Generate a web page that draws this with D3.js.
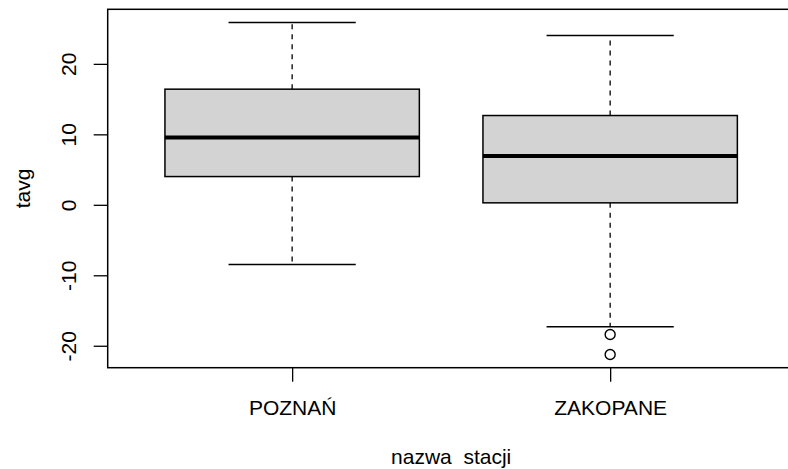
<!DOCTYPE html>
<html>
<head>
<meta charset="utf-8">
<script src="https://cdn.jsdelivr.net/npm/d3@7"></script>
<style>
  body { margin: 0; background: #fff; }
  svg { display: block; font-family: "Liberation Sans", Arial, sans-serif; }
</style>
</head>
<body>
<div id="chart"></div>
<script>
// Data
var stations = ["POZNAŃ", "ZAKOPANE"];
var whiskerLow = [-8.47, -17.3];
var q1 = [4.01, 0.28];
var median = [9.55, 6.91];
var q3 = [16.41, 12.67];
var whiskerHigh = [25.86, 24.01];
var outliers = [[], [-18.4, -21.23]];
var yTicks = [-20, -10, 0, 10, 20];

var W = 788, H = 469;
var plot = { left: 107.7, top: 9.3, right: 794.6, bottom: 367.7 };

var svg = d3.select("#chart")
  .append("svg")
    .attr("width", W)
    .attr("height", H);

var boxes = stations.map(function (s, i) {
  return { name: s, pos: i + 1, lo: whiskerLow[i], q1: q1[i], med: median[i],
           q3: q3[i], hi: whiskerHigh[i], out: outliers[i] };
});

// R style range: data extent padded by 4%
var allVals = d3.merge([whiskerLow, whiskerHigh, d3.merge(outliers)]);
var ymin = d3.min(allVals), ymax = d3.max(allVals);
var pad = (ymax - ymin) * 0.04;

var y = d3.scaleLinear()
  .domain([ymin - pad, ymax + pad])
  .range([plot.bottom, plot.top]);

var x = d3.scaleLinear()
  .domain([0.42, stations.length + 0.58])
  .range([plot.left, plot.right]);

var boxHalf = 0.4, stapleHalf = 0.2;

var g = svg.append("g");

// whiskers (dashed)
boxes.forEach(function (d) {
  g.append("line")
    .attr("x1", x(d.pos)).attr("x2", x(d.pos))
    .attr("y1", y(d.q3)).attr("y2", y(d.hi))
    .attr("stroke", "#000").attr("stroke-width", 1.3)
    .attr("stroke-dasharray", "5,5");
  g.append("line")
    .attr("x1", x(d.pos)).attr("x2", x(d.pos))
    .attr("y1", y(d.q1)).attr("y2", y(d.lo))
    .attr("stroke", "#000").attr("stroke-width", 1.3)
    .attr("stroke-dasharray", "5,5");
});

// boxes
g.selectAll("rect.box")
  .data(boxes)
  .enter()
  .append("rect")
    .attr("class", "box")
    .attr("x", d => x(d.pos - boxHalf))
    .attr("y", d => y(d.q3))
    .attr("width", d => x(d.pos + boxHalf) - x(d.pos - boxHalf))
    .attr("height", d => y(d.q1) - y(d.q3))
    .style("fill", "#d3d3d3")
    .style("stroke", "#000")
    .style("stroke-width", 1.5);

// medians
g.selectAll("line.median")
  .data(boxes)
  .enter()
  .append("line")
    .attr("class", "median")
    .attr("x1", d => x(d.pos - boxHalf))
    .attr("x2", d => x(d.pos + boxHalf))
    .attr("y1", d => y(d.med))
    .attr("y2", d => y(d.med))
    .style("stroke", "#000")
    .style("stroke-width", 4);

// staples
["lo", "hi"].forEach(function (k) {
  g.selectAll("line.staple-" + k)
    .data(boxes)
    .enter()
    .append("line")
      .attr("x1", d => x(d.pos - stapleHalf))
      .attr("x2", d => x(d.pos + stapleHalf))
      .attr("y1", d => y(d[k]))
      .attr("y2", d => y(d[k]))
      .style("stroke", "#000")
      .style("stroke-width", 1.5);
});

// outliers
boxes.forEach(function (d) {
  g.selectAll(null)
    .data(d.out)
    .enter()
    .append("circle")
      .attr("cx", x(d.pos))
      .attr("cy", v => y(v))
      .attr("r", 5)
      .style("fill", "none")
      .style("stroke", "#000")
      .style("stroke-width", 1.4);
});

// y axis (plain hyphen minus, like R)
var yAxis = svg.append("g")
  .attr("transform", "translate(" + plot.left + ",0)")
  .call(d3.axisLeft(y).tickValues(yTicks).tickSize(14).tickFormat(d => String(d)));
yAxis.select(".domain").remove();
yAxis.selectAll(".tick line").attr("stroke", "#000").attr("stroke-width", 1.3);
yAxis.selectAll(".tick text")
  .attr("x", null).attr("dy", null)
  .attr("transform", "translate(-32,0) rotate(-90)")
  .attr("text-anchor", "middle")
  .attr("fill", "#000")
  .style("font-size", "21px")
  .style("font-family", "Liberation Sans, Arial, sans-serif");

// x axis
var xAxis = svg.append("g")
  .attr("transform", "translate(0," + plot.bottom + ")")
  .call(d3.axisBottom(x).tickValues(boxes.map(d => d.pos)).tickSize(14)
    .tickFormat((d, i) => stations[i]));
xAxis.select(".domain").remove();
xAxis.selectAll(".tick line").attr("stroke", "#000").attr("stroke-width", 1.3);
xAxis.selectAll(".tick text")
  .attr("y", 47).attr("dy", null)
  .attr("fill", "#000")
  .style("font-size", "21px")
  .style("font-family", "Liberation Sans, Arial, sans-serif");

// frame
svg.append("rect")
  .attr("x", plot.left)
  .attr("y", plot.top)
  .attr("width", plot.right - plot.left)
  .attr("height", plot.bottom - plot.top)
  .style("fill", "none")
  .style("stroke", "#000")
  .style("stroke-width", 1.5);

// axis titles
svg.append("text")
  .attr("x", (plot.left + plot.right) / 2)
  .attr("y", 464)
  .attr("text-anchor", "middle")
  .style("font-size", "21px")
  .style("white-space", "pre")
  .text("nazwa  stacji");

svg.append("text")
  .attr("transform", "translate(30," + ((plot.top + plot.bottom) / 2) + ") rotate(-90)")
  .attr("text-anchor", "middle")
  .style("font-size", "21px")
  .text("tavg");
</script>
</body>
</html>
